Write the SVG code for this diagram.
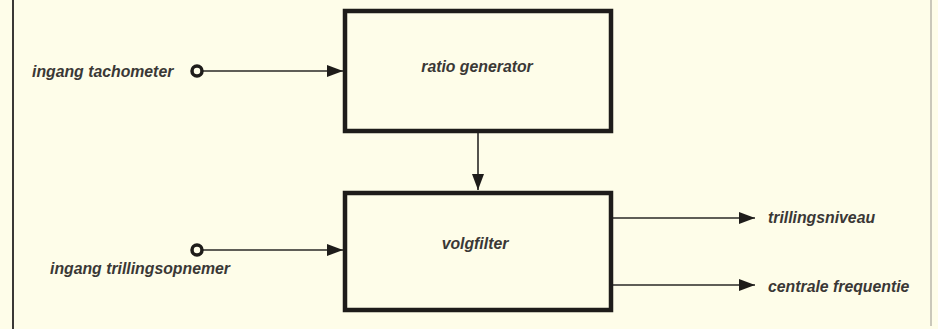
<svg xmlns="http://www.w3.org/2000/svg" width="938" height="329" viewBox="0 0 938 329">
<defs>
<style>
.box{fill:none;stroke:#1e1c1a;stroke-width:4.5}
.ln{fill:none;stroke:#2a2826;stroke-width:1.6}
.t{font-family:"Liberation Sans",Arial,sans-serif;font-style:italic;font-weight:bold;font-size:15.8px;fill:#3a3836}
.port{fill:#fefde9;stroke:#1e1c1a;stroke-width:3.5}
</style>
<marker id="ah" viewBox="0 0 16 12" refX="16" refY="6" markerWidth="16" markerHeight="12" markerUnits="userSpaceOnUse" orient="auto">
<path d="M0,0 L16,6 L0,12 Z" fill="#1e1c1a"/>
</marker>
</defs>
<rect width="938" height="329" fill="#fefde9"/>
<line x1="13" y1="0" x2="13" y2="329" stroke="#3a3836" stroke-width="2"/>
<line x1="931" y1="0" x2="931" y2="326" stroke="#b8b6aa" stroke-width="1.5"/>
<g id="connectors">
<line class="ln" x1="203" y1="71" x2="343" y2="71" marker-end="url(#ah)"/>
<line class="ln" x1="203" y1="250" x2="343" y2="250" marker-end="url(#ah)"/>
<line class="ln" x1="478" y1="133" x2="478" y2="190" marker-end="url(#ah)"/>
<line class="ln" x1="613" y1="218" x2="755" y2="218" marker-end="url(#ah)"/>
<line class="ln" x1="613" y1="285" x2="755" y2="285" marker-end="url(#ah)"/>
</g>
<g id="in-tacho">
<circle class="port" cx="197" cy="71" r="5"/>
<text class="t" x="32" y="77">ingang tachometer</text>
</g>
<g id="in-trilling">
<circle class="port" cx="197" cy="250" r="5"/>
<text class="t" x="50" y="274">ingang trillingsopnemer</text>
</g>
<g id="ratio-generator">
<rect class="box" x="345" y="11" width="266" height="120"/>
<text class="t" x="477" y="72" text-anchor="middle">ratio generator</text>
</g>
<g id="volgfilter">
<rect class="box" x="345" y="193" width="266" height="117"/>
<text class="t" x="475" y="249" text-anchor="middle">volgfilter</text>
</g>
<g id="out-niveau">
<text class="t" x="768" y="223">trillingsniveau</text>
</g>
<g id="out-freq">
<text class="t" x="768" y="292">centrale frequentie</text>
</g>
</svg>
